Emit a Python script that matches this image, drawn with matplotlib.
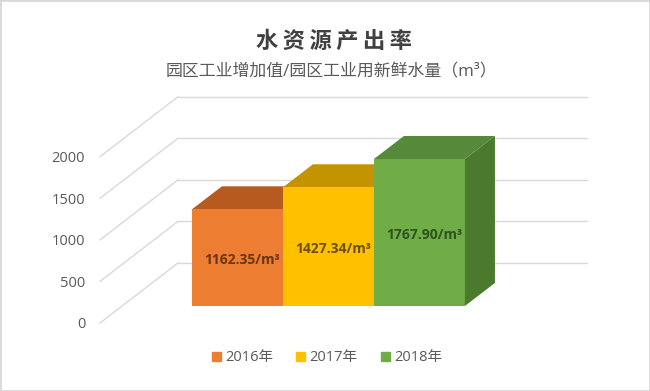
import numpy as np
import matplotlib
matplotlib.use("Agg")
import matplotlib.pyplot as plt
from matplotlib.patches import Polygon, Rectangle

plt.rcParams["font.family"] = ["Open Sans", "Noto Sans CJK SC", "DejaVu Sans"]

# datos
years = ["2016年", "2017年", "2018年"]
values = [1162.35, 1427.34, 1767.90]
labels = ["1162.35/m³", "1427.34/m³", "1767.90/m³"]
ticks = [0, 500, 1000, 1500, 2000]

front = ["#ED7D31", "#FFC000", "#70AD47"]
top = ["#B65A1F", "#C49300", "#56893A"]
side = ["#A9521B", "#B88A00", "#4B7A2C"]
text_col = ["#6B3514", "#6B5100", "#2E5220"]

# profundidad oblicua (unidades de datos)
wall_dx, wall_dy = 0.857, 722
bar_dx, bar_dy = 0.33, 277
off_x, off_y = 0.24, 205
x0 = 0.77

W, H = 650, 391
fig = plt.figure(figsize=(W / 100, H / 100), dpi=100)
ax = fig.add_axes([90 / W, (H - 330) / H, 510 / W, 240 / H])
ax.set_xlim((90 - 100) / 91, (600 - 100) / 91)
ax.set_ylim(-7 * 12.03, 233 * 12.03)
for s in ax.spines.values():
    s.set_visible(False)
ax.set_xticks([])
ax.set_yticks(ticks)
ax.set_yticklabels([str(t) for t in ticks], color="#595959", fontsize=10.5)
ax.tick_params(axis="y", length=0, pad=3.5)

# rejilla: diagonal + pared del fondo
x_end = (587 - 100) / 91
for t in ticks:
    ax.plot([0, wall_dx], [t, t + wall_dy], color="#D9D9D9", lw=1, zorder=1)
    ax.plot([wall_dx, x_end], [t + wall_dy, t + wall_dy], color="#D9D9D9", lw=1, zorder=1)

# barras 3D
xs = x0 + off_x + np.arange(len(values))
bars = ax.bar(xs, values, width=1, bottom=off_y, align="edge",
              color=front, zorder=5, linewidth=0)
for i, (x, v) in enumerate(zip(xs, values)):
    yt = off_y + v
    ax.add_patch(Polygon([(x, yt), (x + 1, yt), (x + 1 + bar_dx, yt + bar_dy),
                          (x + bar_dx, yt + bar_dy)], closed=True,
                         facecolor=top[i], edgecolor="none", zorder=3 + i))
    ax.add_patch(Polygon([(x + 1, off_y), (x + 1 + bar_dx, off_y + bar_dy),
                          (x + 1 + bar_dx, yt + bar_dy), (x + 1, yt)], closed=True,
                         facecolor=side[i], edgecolor="none", zorder=3 + i))
    ax.text(x + 0.55, off_y + v * 0.5 - 30, labels[i], ha="center", va="center",
            fontsize=10, fontweight="bold", color=text_col[i], zorder=10)

fig.text(334 / W, (H - 42) / H, "\u2009".join("水资源产出率"), ha="center", va="center",
         fontsize=16, fontweight="bold", color="#404040")
fig.text(331 / W, (H - 72) / H, "园区工业增加值/园区工业用新鲜水量（m³）", ha="center",
         va="center", fontsize=12.2, color="#595959")

handles = [Rectangle((0, 0), 1, 1, color=c) for c in front]
fig.legend(handles, years, loc="center", bbox_to_anchor=(327 / W, (H - 358) / H),
           ncol=3, frameon=False, fontsize=10.5, handlelength=0.6, handleheight=0.6,
           handletextpad=0.3, columnspacing=1.6, labelcolor="#595959")

# marco
fig.add_artist(Rectangle((0, 0), 1, 1, transform=fig.transFigure, fill=False,
                         edgecolor="#D9D9D9", lw=2))

fig.savefig("out.png", dpi=100)
